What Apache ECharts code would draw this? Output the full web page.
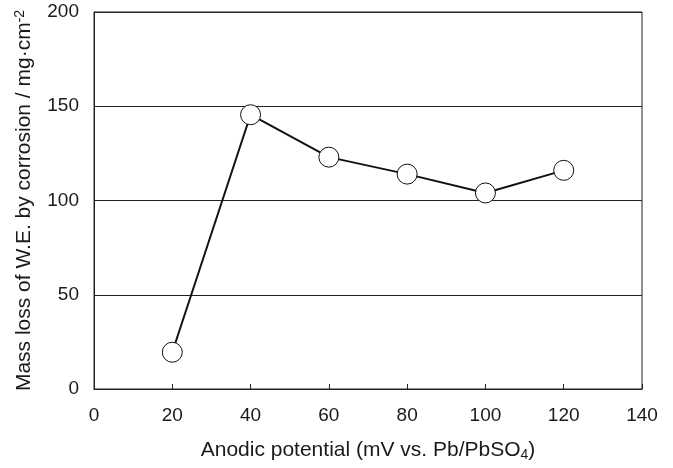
<!DOCTYPE html>
<html lang="en">
<head>
    <meta charset="UTF-8">
    <title>Mass loss vs anodic potential</title>
    <script src="https://cdn.jsdelivr.net/npm/echarts@6/dist/echarts.min.js"></script>
    <style>
        html, body { margin: 0; padding: 0; background: #fff; }
    </style>
</head>
<body>
    <div id="main" style="width: 673px;height:468px;"></div>
    <script type="text/javascript">
        // potentials (mV) and mass loss (mg/cm2)
        const potentials = [20, 40, 60, 80, 100, 120];
        const massLoss = [19.5, 145.5, 123, 114, 104, 116];
        const xTicks = [0, 20, 40, 60, 80, 100, 120, 140];
        const yTicks = [0, 50, 100, 150, 200];

        const font = 'Liberation Sans, Arial, sans-serif';
        const textColor = '#1a1a1a';

        let myChart = echarts.init(document.getElementById('main'));

        let options = {
            animation: false,
            textStyle: { fontFamily: font },
            grid: {
                left: 94, right: 31, top: 12, bottom: 79,
                show: true, borderColor: '#222', borderWidth: 1
            },
            xAxis: {
                type: 'value',
                min: xTicks[0], max: xTicks[xTicks.length - 1], interval: 20,
                name: '{t|Anodic potential (mV vs. Pb/PbSO}{sub|4}{t|)}',
                nameLocation: 'middle', nameGap: 50,
                nameTextStyle: {
                    fontSize: 21,
                    rich: {
                        t: { fontSize: 21, color: textColor, fontFamily: font },
                        sub: { fontSize: 14, color: textColor, fontFamily: font, verticalAlign: 'bottom', padding: [9, 0, 0, 0] }
                    }
                },
                axisLine: { lineStyle: { color: '#222', width: 1 } },
                axisTick: { show: true, inside: true, length: 5, lineStyle: { color: '#222' } },
                axisLabel: { fontSize: 19, color: textColor, margin: 17, fontFamily: font },
                splitLine: { show: false }
            },
            yAxis: {
                type: 'value',
                min: yTicks[0], max: yTicks[yTicks.length - 1], interval: 50,
                name: '{t|Mass loss of W.E. by corrosion / mg·cm}{sup|-2}',
                nameLocation: 'middle', nameGap: 58,
                nameTextStyle: {
                    fontSize: 21,
                    rich: {
                        t: { fontSize: 21, color: textColor, fontFamily: font },
                        sup: { fontSize: 14, color: textColor, fontFamily: font, verticalAlign: 'top', padding: [0, 0, 9, 0] }
                    }
                },
                axisLine: { show: true, lineStyle: { color: '#222', width: 1 } },
                axisTick: { show: false },
                axisLabel: { fontSize: 19, color: textColor, margin: 15, fontFamily: font },
                splitLine: { show: true, lineStyle: { color: '#222', width: 1 } }
            },
            series: [{
                type: 'line',
                data: potentials.map((p, i) => [p, massLoss[i]]),
                symbol: 'circle',
                symbolSize: 20,
                itemStyle: { color: '#fff', borderColor: '#111', borderWidth: 1 },
                lineStyle: { color: '#111', width: 2 }
            }]
        };

        myChart.setOption(options);
    </script>
</body>
</html>
